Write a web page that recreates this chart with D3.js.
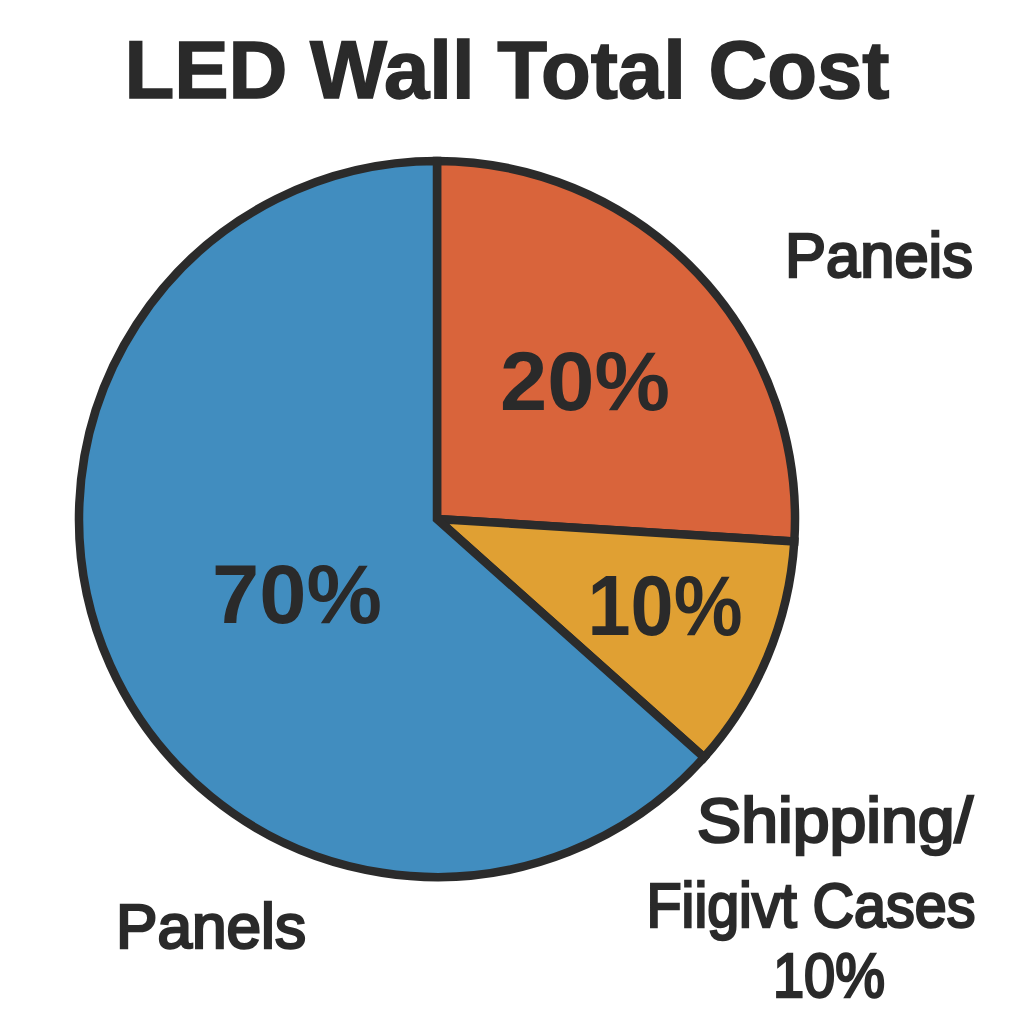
<!DOCTYPE html>
<html>
<head>
<meta charset="utf-8">
<script src="https://cdn.jsdelivr.net/npm/d3@7"></script>
<style>
    html, body { margin: 0; padding: 0; background: #fff; }
    svg { display: block; }
    text { font-family: "Liberation Sans", Arial, sans-serif; fill: #2a2a2a; }
</style>
</head>
<body>
<div id="chart"></div>
<script>
var sliceKeys = ["top-right", "bottom-right", "left"];
var sliceShares = [26.0, 10.6, 63.4];
var sliceLabels = ["20%", "10%", "70%"];

// names printed outside the pie
var titleText = "LED Wall Total Cost";
var outerLabels = ["Paneis", "Shipping/", "Fiigivt Cases", "10%", "Panels"];

var width = 1024, height = 1024;
var cx = 437, cy = 519, radius = 358;

var color = d3.scaleOrdinal()
    .domain(sliceKeys)
    .range(["#d9643b", "#e0a033", "#418dbf"]);

var svg = d3.select("#chart").append("svg")
    .attr("width", width)
    .attr("height", height);

svg.append("text")
    .attr("x", 507)
    .attr("y", 98)
    .attr("text-anchor", "middle")
    .attr("font-size", 82)
    .attr("font-weight", "bold")
    .attr("stroke", "#2a2a2a")
    .attr("stroke-width", 1.5)
    .attr("textLength", 765)
    .attr("lengthAdjust", "spacingAndGlyphs")
    .text(titleText);

var pie = d3.pie().sort(null).value(function(d) { return d; });
var arc = d3.arc().innerRadius(0).outerRadius(radius);

var g = svg.append("g").attr("transform", "translate(" + cx + "," + cy + ")");

g.selectAll("path.slice")
    .data(pie(sliceShares))
    .enter().append("path")
    .attr("class", "slice")
    .attr("d", arc)
    .attr("fill", function(d, i) { return color(sliceKeys[i]); })
    .attr("stroke", "#2b2b2b")
    .attr("stroke-width", 8.5)
    .attr("stroke-linejoin", "miter");

// percent labels inside the slices
var inner = [
    { x: 585, y: 410, w: 170, fs: 84 },
    { x: 665, y: 635, w: 155, fs: 86 },
    { x: 297, y: 623, w: 170, fs: 84 }
];
svg.selectAll("text.pct")
    .data(sliceLabels)
    .enter().append("text")
    .attr("class", "pct")
    .attr("x", function(d, i) { return inner[i].x; })
    .attr("y", function(d, i) { return inner[i].y; })
    .attr("text-anchor", "middle")
    .attr("font-size", function(d, i) { return inner[i].fs; })
    .attr("font-weight", "bold")
    .attr("textLength", function(d, i) { return inner[i].w; })
    .attr("lengthAdjust", "spacingAndGlyphs")
    .text(function(d) { return d; });

// outside labels
var outer = [
    { x: 879, y: 277, w: 188 },
    { x: 835, y: 842, w: 276 },
    { x: 811, y: 927, w: 329 },
    { x: 829, y: 997, w: 112 },
    { x: 211, y: 948, w: 190 }
];
svg.selectAll("text.outer")
    .data(outerLabels)
    .enter().append("text")
    .attr("class", "outer")
    .attr("x", function(d, i) { return outer[i].x; })
    .attr("y", function(d, i) { return outer[i].y; })
    .attr("text-anchor", "middle")
    .attr("font-size", 63)
    .attr("stroke", "#2a2a2a")
    .attr("stroke-width", 2.6)
    .attr("textLength", function(d, i) { return outer[i].w; })
    .attr("lengthAdjust", "spacingAndGlyphs")
    .text(function(d) { return d; });
</script>
</body>
</html>
